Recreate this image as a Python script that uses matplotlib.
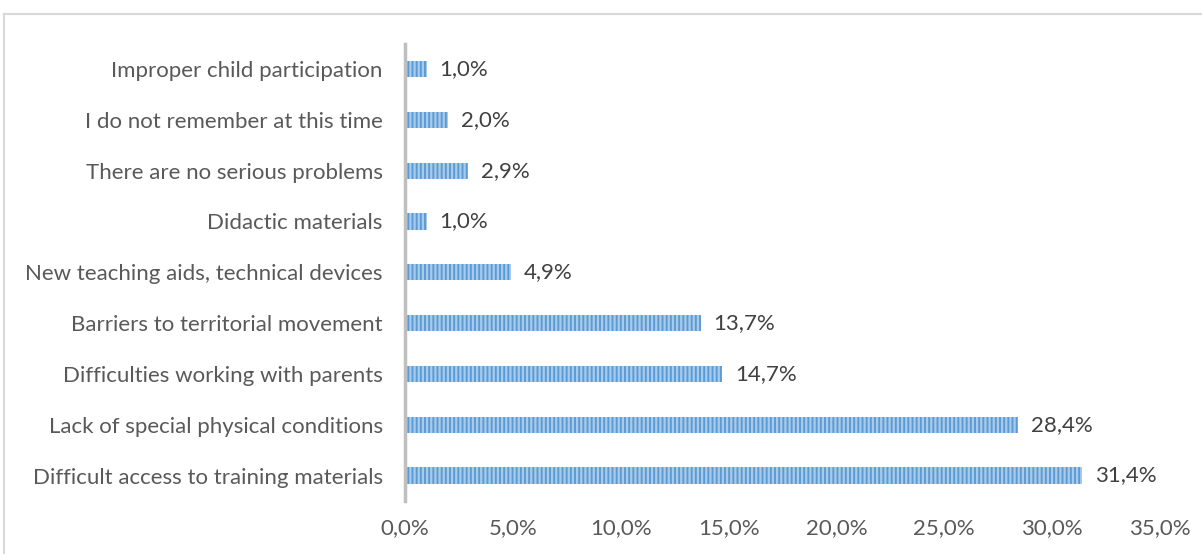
import matplotlib
matplotlib.use("Agg")
import matplotlib.pyplot as plt
from matplotlib.lines import Line2D

categories = [
    "Difficult access to training materials",
    "Lack of special physical conditions",
    "Difficulties working with parents",
    "Barriers to territorial movement",
    "New teaching aids, technical devices",
    "Didactic materials",
    "There are no serious problems",
    "I do not remember at this time",
    "Improper child participation",
]
values = [31.4, 28.4, 14.7, 13.7, 4.9, 1.0, 2.9, 2.0, 1.0]
xticks = [0, 5, 10, 15, 20, 25, 30, 35]

W, H = 1202, 554
fig = plt.figure(figsize=(W / 100, H / 100), dpi=100)
plt.rcParams["hatch.linewidth"] = 1.6
font = "Lato"
fs = 16
text_color = "#595959"

ax = fig.add_axes([405 / W, 1 - 501 / H, (1160 - 405) / W, (501 - 43.6) / H])
ypos = list(range(len(categories)))
ax.barh(ypos, values, height=0.32, color="#5B9BD5", edgecolor="#A9CBEB",
        hatch="||||", linewidth=0)
ax.set_xlim(0, 35)
ax.set_ylim(-0.5, len(categories) - 0.5)

for y, v in zip(ypos, values):
    ax.text(v + 0.6, y, f"{v:.1f}%".replace(".", ","), va="center", ha="left",
            fontsize=fs, color="#404040", family=font)

ax.set_yticks(ypos)
ax.set_yticklabels(categories, fontsize=fs, color=text_color, family=font)
ax.set_xticks(xticks)
ax.set_xticklabels([f"{t:.1f}%".replace(".", ",") for t in xticks],
                   fontsize=fs, color=text_color, family=font)
ax.tick_params(axis="both", length=0)
ax.tick_params(axis="y", pad=16)
ax.tick_params(axis="x", pad=12)
for s in ["top", "right", "bottom"]:
    ax.spines[s].set_visible(False)
ax.spines["left"].set_color("#BFBFBF")
ax.spines["left"].set_linewidth(2.5)

# outer chart frame
fig.add_artist(Line2D([4 / W, 1.0], [1 - 14 / H, 1 - 14 / H],
                      transform=fig.transFigure, color="#D9D9D9", lw=1.5))
fig.add_artist(Line2D([4 / W, 4 / W], [1 - 14 / H, 0],
                      transform=fig.transFigure, color="#D9D9D9", lw=1.5))

fig.savefig("out.png", dpi=100, facecolor="white")
